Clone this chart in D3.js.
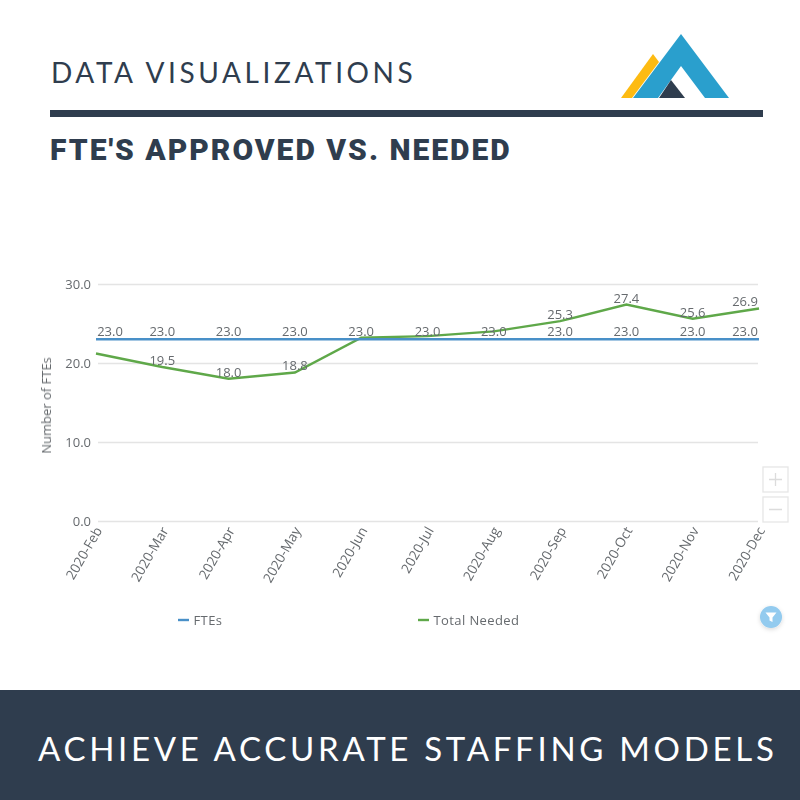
<!DOCTYPE html>
<html>
<head>
<meta charset="utf-8">
<script src="https://cdnjs.cloudflare.com/ajax/libs/d3/7.8.5/d3.min.js"></script>
<style>
  html, body { margin: 0; padding: 0; background: #fff; }
  svg { display: block; }
  .chart text { font-family: "Open Sans", sans-serif; font-size: 13px; fill: #666a6e; }
</style>
</head>
<body>
<div id="canvas"></div>
<script>
var months = ['2020-Feb','2020-Mar','2020-Apr','2020-May','2020-Jun','2020-Jul','2020-Aug','2020-Sep','2020-Oct','2020-Nov','2020-Dec'];
var ftes = [23,23,23,23,23,23,23,23,23,23,23];
var totalNeeded = [21.2,19.5,18,18.8,23.2,23.4,24,25.3,27.4,25.6,26.9];
// green labels are only visible for these months in the original
var neededLabelled = ['2020-Mar','2020-Apr','2020-May','2020-Sep','2020-Oct','2020-Nov','2020-Dec'];
var yTicks = [0,10,20,30];

var dark = '#2f3d4e', blue = '#4a90c8', green = '#5fa84a';

var svg = d3.select('#canvas').append('svg')
	.attr('width', 800)
	.attr('height', 800);

svg.append('rect').attr('width', 800).attr('height', 800).attr('fill', '#fff');

var defs = svg.append('defs');
// the chart in the original is a slightly soft screenshot
defs.append('filter').attr('id', 'soften')
	.attr('filterUnits', 'userSpaceOnUse').attr('x', 0).attr('y', 200).attr('width', 800).attr('height', 480)
	.append('feGaussianBlur').attr('stdDeviation', 0.35);

/* header */
svg.append('text')
	.attr('x', 51).attr('y', 83)
	.attr('font-family', 'Lato, sans-serif')
	.attr('font-weight', 400)
	.attr('font-size', 28)
	.attr('letter-spacing', 3.6)
	.attr('fill', dark)
	.text('DATA VISUALIZATIONS');

svg.append('rect').attr('x', 50).attr('y', 110).attr('width', 713).attr('height', 7).attr('fill', dark);

svg.append('text')
	.attr('x', 50).attr('y', 160)
	.attr('font-family', 'Roboto, sans-serif')
	.attr('font-weight', 900)
	.attr('font-size', 30)
	.attr('letter-spacing', 2)
	.attr('fill', dark)
	.text("FTE'S APPROVED VS. NEEDED");

/* logo */
var logo = svg.append('g');
logo.append('path').attr('d', 'M653,54L659,62L632,98L621,98Z').attr('fill', '#fdbb12');
logo.append('path').attr('d', 'M681,34L729,98L705,98L681,66L658,98L633,98Z').attr('fill', '#2a9fcd');
logo.append('path').attr('d', 'M671,80L685,98L659,98Z').attr('fill', dark);

/* footer */
svg.append('rect').attr('x', 0).attr('y', 690).attr('width', 800).attr('height', 110).attr('fill', dark);
svg.append('text')
	.attr('x', 38).attr('y', 761)
	.attr('font-family', 'Lato, sans-serif')
	.attr('font-weight', 400)
	.attr('font-size', 33)
	.attr('letter-spacing', 3.7)
	.attr('fill', '#fff')
	.text('ACHIEVE ACCURATE STAFFING MODELS');

/* chart */
var plot = svg.append('g').attr('class', 'chart').attr('filter', 'url(#soften)');

var x = d3.scalePoint().domain(months).range([96, 759]);
var y = d3.scaleLinear().domain([0, 30]).range([521, 284]);

var yAxis = plot.append('g')
	.attr('transform', 'translate(98,0)')
	.call(d3.axisLeft(y).tickValues(yTicks).tickFormat(d3.format('.1f')).tickSize(-660).tickPadding(7));
yAxis.select('.domain').remove();
yAxis.selectAll('line').attr('stroke', '#e4e4e4').attr('stroke-width', 1.3);
yAxis.selectAll('text').style('font-size', '13px');

var xAxis = plot.append('g')
	.attr('transform', 'translate(0,521)')
	.call(d3.axisBottom(x).tickSize(0));
xAxis.select('.domain').remove();
xAxis.selectAll('text')
	.attr('text-anchor', 'end')
	.attr('transform', 'translate(2,7) rotate(-60)')
	.attr('dy', '0.35em')
	.attr('y', 0)
	.style('font-size', '13.5px');

plot.append('text')
	.attr('transform', 'translate(51,405.5) rotate(-90)')
	.attr('text-anchor', 'middle')
	.style('font-size', '13px')
	.text('Number of FTEs');

var line = d3.line().x(function(d){ return x(d.m); }).y(function(d){ return y(d.v); });
var toPoints = function(values){ return values.map(function(v, i){ return {m: months[i], v: v}; }); };

plot.append('path')
	.attr('d', line(toPoints(totalNeeded)))
	.attr('fill', 'none').attr('stroke', green).attr('stroke-width', 2.4);

plot.append('path')
	.attr('d', line(toPoints(ftes)))
	.attr('fill', 'none').attr('stroke', blue).attr('stroke-width', 2.6);

/* first and last labels get pushed inside the plot */
function labelX(m){
	if (m === months[0]) return x(m) + 14;
	if (m === months[months.length - 1]) return x(m) - 14;
	return x(m);
}

plot.selectAll('.ftes-label')
	.data(toPoints(ftes))
	.enter().append('text')
	.attr('class', 'ftes-label')
	.attr('x', function(d){ return labelX(d.m); })
	.attr('y', function(d){ return y(d.v) - 3.5; })
	.attr('text-anchor', 'middle')
	.text(function(d){ return d.v.toFixed(1); });

plot.selectAll('.needed-label')
	.data(toPoints(totalNeeded).filter(function(d){ return neededLabelled.indexOf(d.m) >= 0; }))
	.enter().append('text')
	.attr('class', 'needed-label')
	.attr('x', function(d){ return labelX(d.m); })
	.attr('y', function(d){ return y(d.v) - 2; })
	.attr('text-anchor', 'middle')
	.text(function(d){ return d.v.toFixed(1); });

/* legend */
var legendItems = [{name: 'FTEs', color: blue, lx: 178}, {name: 'Total Needed', color: green, lx: 418}];
legendItems.forEach(function(item){
	var g = plot.append('g').attr('transform', 'translate(' + item.lx + ',620)');
	g.append('line').attr('x1', 0).attr('x2', 11).attr('stroke', item.color).attr('stroke-width', 2.4);
	g.append('text').attr('x', 15.5).attr('y', 4.5).style('letter-spacing', '0.4px').text(item.name);
});

/* zoom buttons */
var buttons = plot.append('g').attr('fill', '#fff').attr('stroke', '#e6e6e6').attr('stroke-width', 1.3);
buttons.append('rect').attr('x', 763).attr('y', 467).attr('width', 25).attr('height', 25);
buttons.append('rect').attr('x', 763).attr('y', 497).attr('width', 25).attr('height', 25);
buttons.append('path').attr('d', 'M769,479.5H782M775.5,473V486M769,509.5H782').attr('fill', 'none').attr('stroke', '#dcdcdc');

/* filter button */
var f = defs.append('filter').attr('id', 'soft').attr('x', '-50%').attr('y', '-50%').attr('width', '200%').attr('height', '200%');
f.append('feDropShadow').attr('dx', 0).attr('dy', 1.5).attr('stdDeviation', 2).attr('flood-color', '#000').attr('flood-opacity', 0.15);
plot.append('circle').attr('cx', 771).attr('cy', 617).attr('r', 11).attr('fill', '#93cbef').attr('filter', 'url(#soft)');
plot.append('path').attr('d', 'M765.5,612.5H776.5L772.5,617.5V622L769.5,620.5V617.5Z').attr('fill', '#fff');
</script>
</body>
</html>
